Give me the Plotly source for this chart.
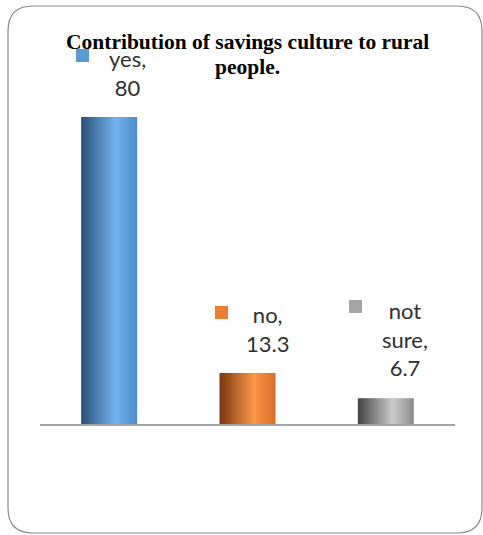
import plotly.graph_objects as go

# ---- data ----
categories = ["yes", "no", "not sure"]
values = [80, 13.3, 6.7]
label_texts = ["yes,<br>80", "no,<br>13.3", "not<br>sure,<br>6.7"]
title_lines = ["Contribution of savings culture to rural", "people."]

# ---- style ----
W, H = 483, 535
L, R, T, B = 40, 28, 117, 111
BW = 0.405
N = 26
grad_stops = [
    [(0.0, (42, 78, 118)), (0.62, (113, 180, 240)), (1.0, (78, 138, 198))],
    [(0.0, (120, 56, 16)), (0.62, (252, 150, 70)), (1.0, (218, 110, 40))],
    [(0.0, (68, 68, 68)), (0.62, (204, 204, 204)), (1.0, (140, 140, 140))],
]
key_colors = ["#5b9bd5", "#ed7d31", "#a5a5a5"]
label_xshift = [18, 20, 19]
label_yshift = [14, 14, 15]
key_xc = [-27, -26, -30]
key_up = [62, 60, 92]
title_top = [28, 53]


def grad(stops, t):
    for (t0, c0), (t1, c1) in zip(stops[:-1], stops[1:]):
        if t <= t1:
            f = (t - t0) / (t1 - t0)
            c = [round(a + (b - a) * f) for a, b in zip(c0, c1)]
            return "rgb(%d,%d,%d)" % tuple(c)
    return "rgb(%d,%d,%d)" % stops[-1][1]


def px(x):
    return (x - L) / (W - L - R)


def py(y):
    return (H - B - y) / (H - T - B)


fig = go.Figure()
for k in range(N):
    t = (k + 0.5) / N
    off = -BW / 2 + k * BW / N
    wid = min(BW / N * 1.6, BW / 2 - off)
    fig.add_trace(go.Bar(
        x=categories, y=values,
        offset=off, width=wid,
        marker=dict(color=[grad(s, t) for s in grad_stops], line=dict(width=0)),
        hoverinfo="skip", showlegend=False,
    ))

# data labels and legend keys
for i, (c, v, txt) in enumerate(zip(categories, values, label_texts)):
    fig.add_annotation(
        x=c, y=v, xref="x", yref="y", text=txt, showarrow=False,
        yanchor="bottom", xanchor="center",
        xshift=label_xshift[i], yshift=label_yshift[i],
        align="center", font=dict(family="Lato", size=22, color="#303030"),
    )
    fig.add_annotation(
        x=c, y=v, xref="x", yref="y", text="&nbsp;", showarrow=False,
        xanchor="center", yanchor="middle",
        xshift=key_xc[i], yshift=key_up[i],
        width=13, height=13, borderpad=0, borderwidth=0,
        bgcolor=key_colors[i], font=dict(size=1),
    )

# title (two lines)
for line, top in zip(title_lines, title_top):
    fig.add_annotation(
        x=0.5, y=py(top), xref="paper", yref="paper",
        text="<b>" + line + "</b>", showarrow=False,
        yanchor="top", xanchor="center",
        font=dict(family="Liberation Serif", size=21.5, color="#000000"),
    )

# outer rounded border
x0, x1, y0, y1, r = 8, 482, 6, 533, 25
path = (
    f"M {px(x0 + r)},{py(y0)} L {px(x1 - r)},{py(y0)} "
    f"Q {px(x1)},{py(y0)} {px(x1)},{py(y0 + r)} "
    f"L {px(x1)},{py(y1 - r)} Q {px(x1)},{py(y1)} {px(x1 - r)},{py(y1)} "
    f"L {px(x0 + r)},{py(y1)} Q {px(x0)},{py(y1)} {px(x0)},{py(y1 - r)} "
    f"L {px(x0)},{py(y0 + r)} Q {px(x0)},{py(y0)} {px(x0 + r)},{py(y0)} Z"
)
fig.add_shape(type="path", path=path, xref="paper", yref="paper",
              line=dict(color="#8a8a8a", width=1.2), layer="below")

fig.update_layout(
    width=W, height=H,
    margin=dict(l=L, r=R, t=T, b=B),
    paper_bgcolor="white", plot_bgcolor="white",
    barmode="overlay",
    xaxis=dict(showline=True, linecolor="#a3a3a3", linewidth=2,
               showticklabels=False, ticks="", showgrid=False, zeroline=False,
               fixedrange=True),
    yaxis=dict(range=[0, 80], visible=False, showgrid=False, zeroline=False),
    showlegend=False,
)

fig.write_html("out.html")
